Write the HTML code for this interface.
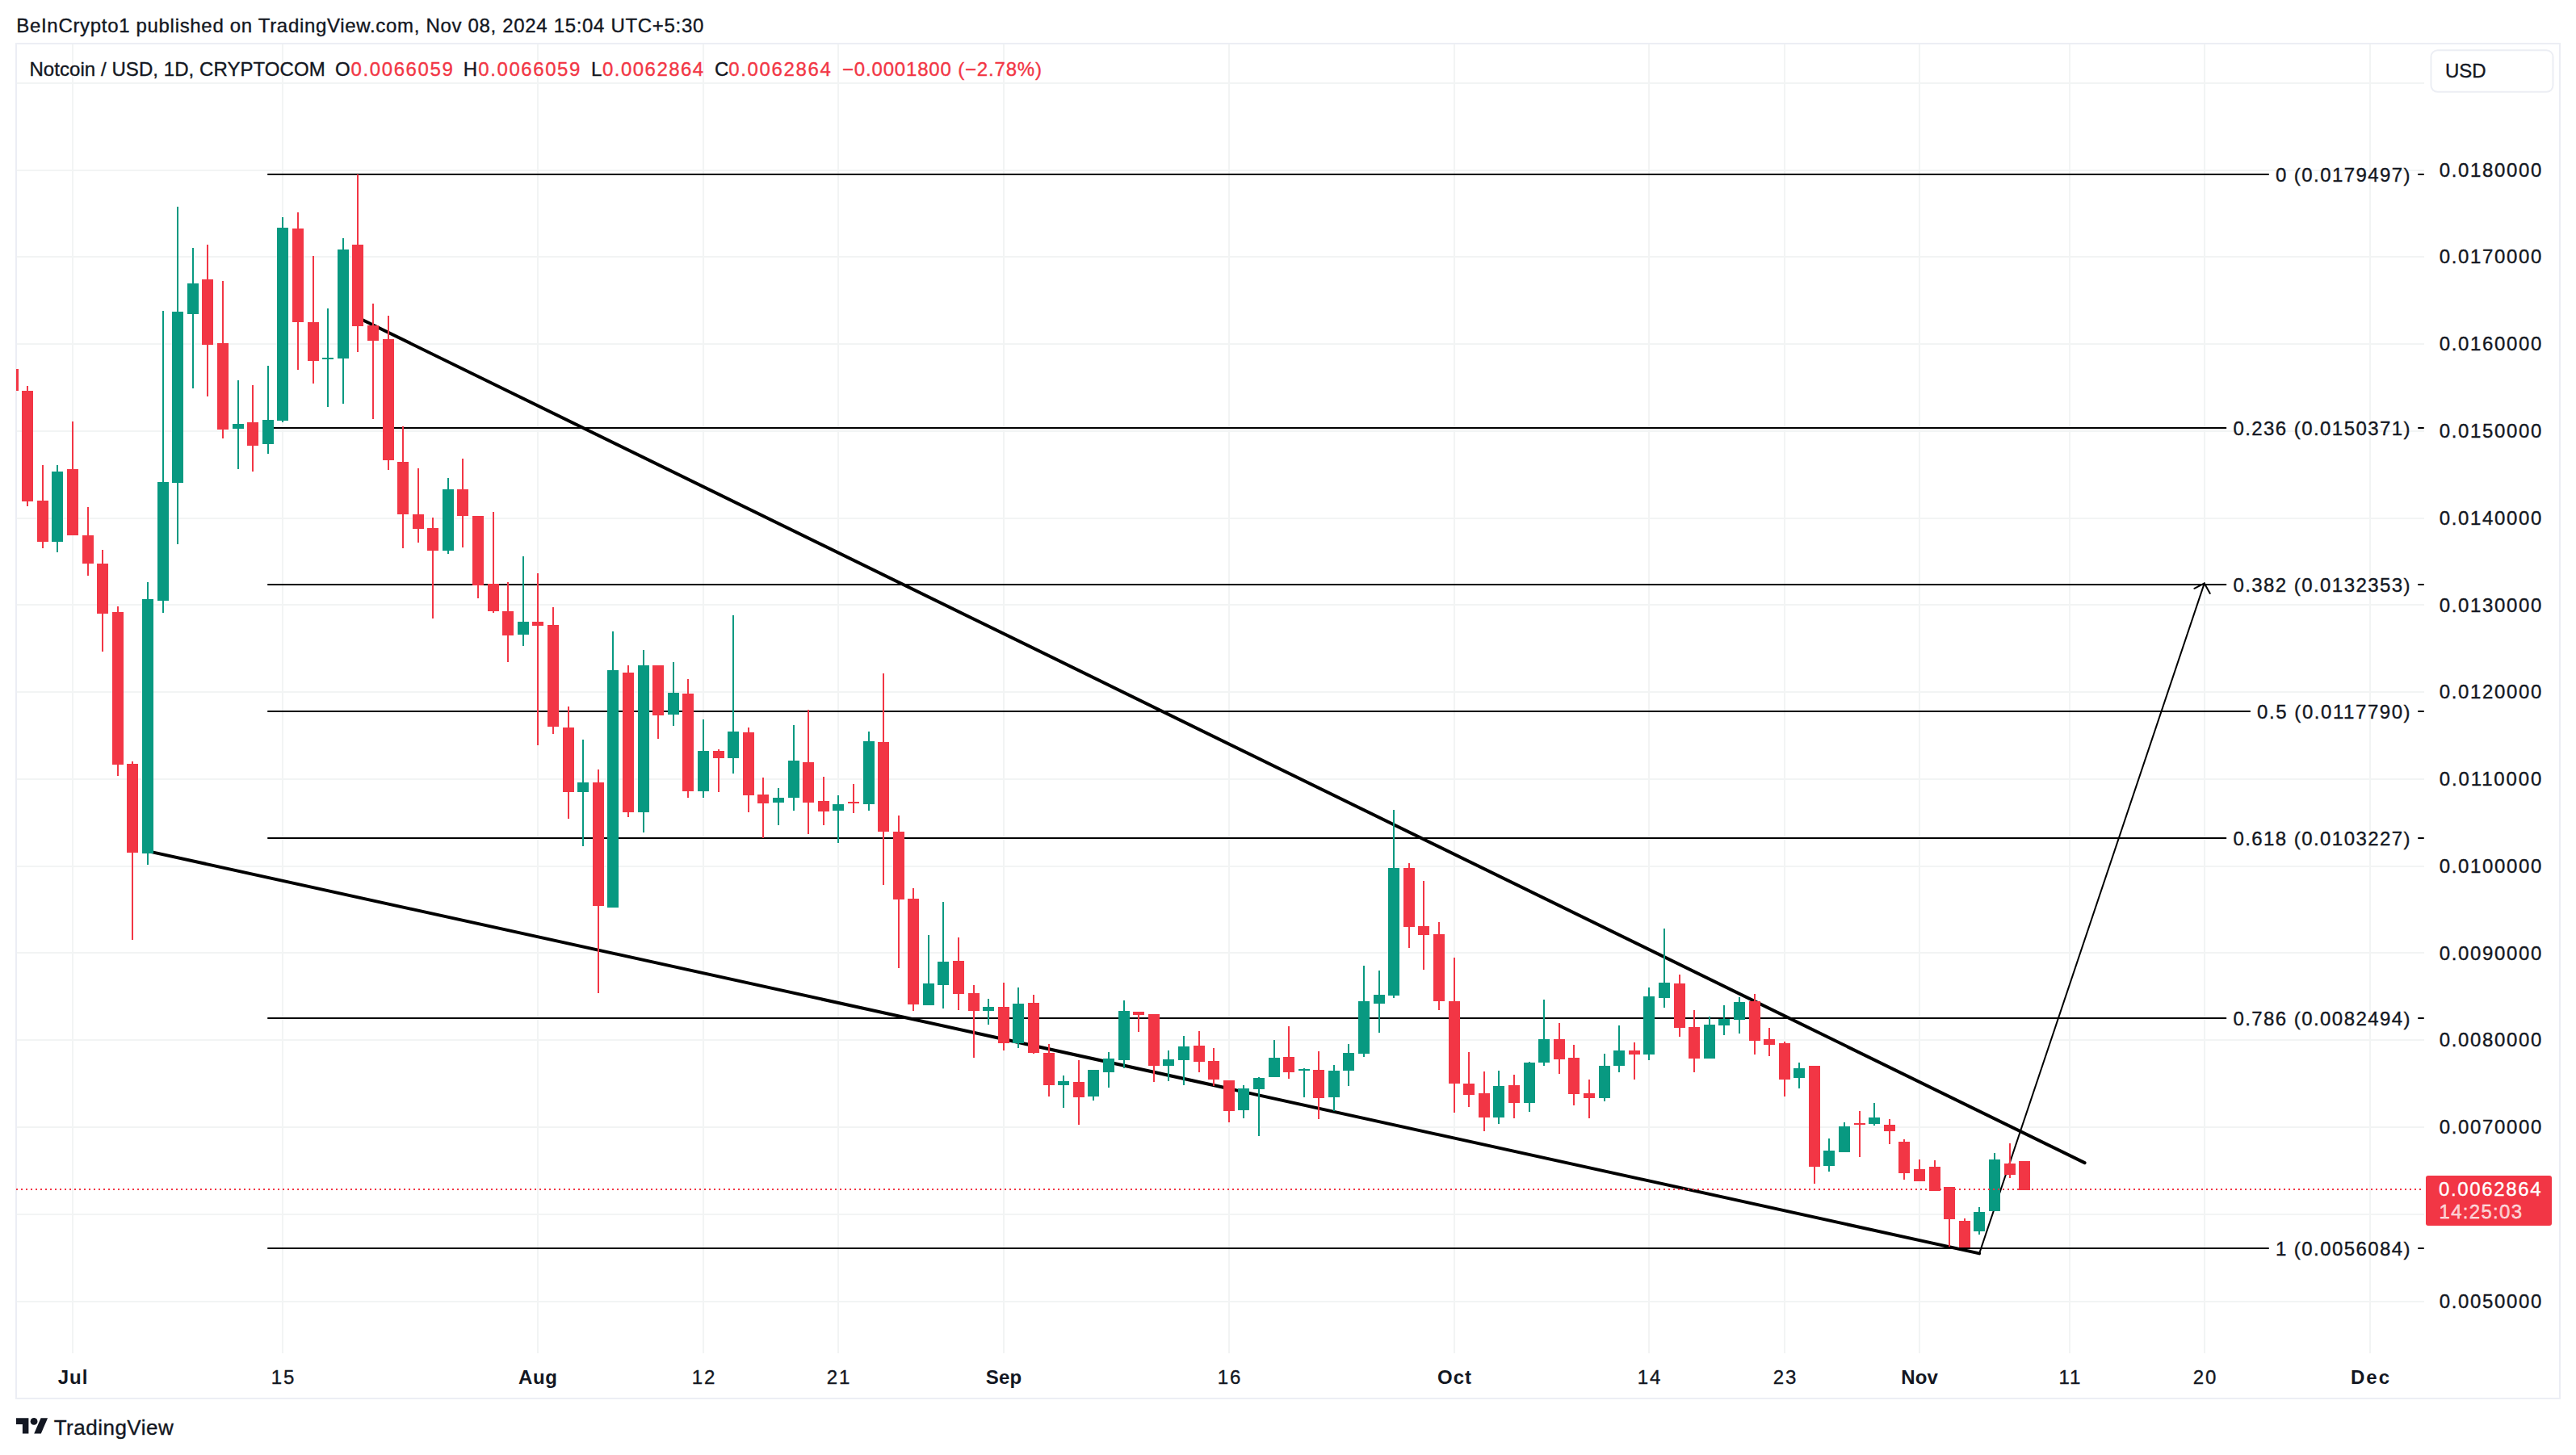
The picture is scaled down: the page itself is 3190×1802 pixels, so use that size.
<!DOCTYPE html>
<html><head><meta charset="utf-8"><title>NOTUSD chart</title>
<style>html,body{margin:0;padding:0;background:#fff}svg{display:block}</style></head>
<body>
<svg width="3190" height="1802" viewBox="0 0 3190 1802" font-family="'Liberation Sans', Arial, sans-serif">
<rect width="3190" height="1802" fill="#fff"/>
<g shape-rendering="crispEdges" fill="#f2f4f4">
<rect x="21" y="1611" width="2981" height="2"/>
<rect x="21" y="1503" width="2981" height="2"/>
<rect x="21" y="1395" width="2981" height="2"/>
<rect x="21" y="1287" width="2981" height="2"/>
<rect x="21" y="1179" width="2981" height="2"/>
<rect x="21" y="1072" width="2981" height="2"/>
<rect x="21" y="964" width="2981" height="2"/>
<rect x="21" y="856" width="2981" height="2"/>
<rect x="21" y="748" width="2981" height="2"/>
<rect x="21" y="641" width="2981" height="2"/>
<rect x="21" y="533" width="2981" height="2"/>
<rect x="21" y="425" width="2981" height="2"/>
<rect x="21" y="317" width="2981" height="2"/>
<rect x="21" y="210" width="2981" height="2"/>
<rect x="21" y="102" width="2981" height="2"/>
<rect x="89" y="55" width="2" height="1621"/>
<rect x="349" y="55" width="2" height="1621"/>
<rect x="665" y="55" width="2" height="1621"/>
<rect x="870" y="55" width="2" height="1621"/>
<rect x="1037" y="55" width="2" height="1621"/>
<rect x="1242" y="55" width="2" height="1621"/>
<rect x="1521" y="55" width="2" height="1621"/>
<rect x="1800" y="55" width="2" height="1621"/>
<rect x="2041" y="55" width="2" height="1621"/>
<rect x="2209" y="55" width="2" height="1621"/>
<rect x="2376" y="55" width="2" height="1621"/>
<rect x="2562" y="55" width="2" height="1621"/>
<rect x="2729" y="55" width="2" height="1621"/>
<rect x="2934" y="55" width="2" height="1621"/>
</g>
<rect x="20" y="54" width="3150" height="1678" fill="none" stroke="#eceef4" stroke-width="2" shape-rendering="crispEdges"/>
<g stroke="#000" stroke-width="2" stroke-linecap="round" fill="none">
<line x1="332" y1="216" x2="2809.0" y2="216"/>
<line x1="2995" y1="216" x2="3001" y2="216"/>
<line x1="332" y1="530" x2="2756.4" y2="530"/>
<line x1="2995" y1="530" x2="3001" y2="530"/>
<line x1="332" y1="724" x2="2756.4" y2="724"/>
<line x1="2995" y1="724" x2="3001" y2="724"/>
<line x1="332" y1="881" x2="2786.1" y2="881"/>
<line x1="2995" y1="881" x2="3001" y2="881"/>
<line x1="332" y1="1038" x2="2756.4" y2="1038"/>
<line x1="2995" y1="1038" x2="3001" y2="1038"/>
<line x1="332" y1="1261" x2="2756.4" y2="1261"/>
<line x1="2995" y1="1261" x2="3001" y2="1261"/>
<line x1="332" y1="1546" x2="2809.0" y2="1546"/>
<line x1="2995" y1="1546" x2="3001" y2="1546"/>
<line x1="2451.1" y1="1552.4" x2="2729.8" y2="722.4" stroke-width="2"/>
<polyline points="2717.4,728.8 2729.8,722.4 2736.8,735" stroke-width="2" stroke-linejoin="round"/>
</g>
<g stroke="#000" stroke-width="4" stroke-linecap="round" fill="none">
<line x1="443" y1="393.3" x2="2581.6" y2="1440.1"/>
<line x1="183" y1="1054.1" x2="2451.1" y2="1552.4"/>
</g>
<text x="2818.0" y="225.0" font-size="24" fill="#131722" stroke="#131722" stroke-width="0.35" textLength="166.6" lengthAdjust="spacing">0 (0.0179497)</text>
<text x="2765.4" y="539.0" font-size="24" fill="#131722" stroke="#131722" stroke-width="0.35" textLength="219.2" lengthAdjust="spacing">0.236 (0.0150371)</text>
<text x="2765.4" y="733.0" font-size="24" fill="#131722" stroke="#131722" stroke-width="0.35" textLength="219.2" lengthAdjust="spacing">0.382 (0.0132353)</text>
<text x="2795.1" y="890.0" font-size="24" fill="#131722" stroke="#131722" stroke-width="0.35" textLength="189.5" lengthAdjust="spacing">0.5 (0.0117790)</text>
<text x="2765.4" y="1047.0" font-size="24" fill="#131722" stroke="#131722" stroke-width="0.35" textLength="219.2" lengthAdjust="spacing">0.618 (0.0103227)</text>
<text x="2765.4" y="1270.0" font-size="24" fill="#131722" stroke="#131722" stroke-width="0.35" textLength="219.2" lengthAdjust="spacing">0.786 (0.0082494)</text>
<text x="2818.0" y="1555.0" font-size="24" fill="#131722" stroke="#131722" stroke-width="0.35" textLength="166.6" lengthAdjust="spacing">1 (0.0056084)</text>
<g shape-rendering="crispEdges">
<clipPath id="pc"><rect x="20" y="55" width="2982" height="1621"/></clipPath>
<g clip-path="url(#pc)">
<rect x="15" y="457" width="2" height="27" fill="#f23645"/>
<rect x="9" y="457" width="14" height="27" fill="#f23645"/>
<rect x="33" y="478" width="2" height="149" fill="#f23645"/>
<rect x="27" y="484" width="14" height="137" fill="#f23645"/>
<rect x="52" y="576" width="2" height="103" fill="#f23645"/>
<rect x="46" y="620" width="14" height="51" fill="#f23645"/>
<rect x="70" y="576" width="2" height="108" fill="#089981"/>
<rect x="64" y="584" width="14" height="87" fill="#089981"/>
<rect x="89" y="522" width="2" height="141" fill="#f23645"/>
<rect x="83" y="581" width="14" height="82" fill="#f23645"/>
<rect x="108" y="628" width="2" height="85" fill="#f23645"/>
<rect x="102" y="663" width="14" height="35" fill="#f23645"/>
<rect x="126" y="681" width="2" height="126" fill="#f23645"/>
<rect x="120" y="698" width="14" height="62" fill="#f23645"/>
<rect x="145" y="751" width="2" height="210" fill="#f23645"/>
<rect x="139" y="758" width="14" height="189" fill="#f23645"/>
<rect x="163" y="943" width="2" height="221" fill="#f23645"/>
<rect x="157" y="946" width="14" height="110" fill="#f23645"/>
<rect x="182" y="721" width="2" height="350" fill="#089981"/>
<rect x="176" y="742" width="14" height="315" fill="#089981"/>
<rect x="201" y="385" width="2" height="374" fill="#089981"/>
<rect x="195" y="597" width="14" height="147" fill="#089981"/>
<rect x="219" y="256" width="2" height="418" fill="#089981"/>
<rect x="213" y="386" width="14" height="212" fill="#089981"/>
<rect x="238" y="307" width="2" height="174" fill="#089981"/>
<rect x="232" y="351" width="14" height="38" fill="#089981"/>
<rect x="256" y="303" width="2" height="188" fill="#f23645"/>
<rect x="250" y="346" width="14" height="81" fill="#f23645"/>
<rect x="275" y="348" width="2" height="195" fill="#f23645"/>
<rect x="269" y="425" width="14" height="107" fill="#f23645"/>
<rect x="294" y="471" width="2" height="110" fill="#089981"/>
<rect x="288" y="525" width="14" height="6" fill="#089981"/>
<rect x="312" y="477" width="2" height="107" fill="#f23645"/>
<rect x="306" y="523" width="14" height="29" fill="#f23645"/>
<rect x="331" y="453" width="2" height="109" fill="#089981"/>
<rect x="325" y="520" width="14" height="30" fill="#089981"/>
<rect x="349" y="269" width="2" height="254" fill="#089981"/>
<rect x="343" y="282" width="14" height="239" fill="#089981"/>
<rect x="368" y="263" width="2" height="195" fill="#f23645"/>
<rect x="362" y="283" width="14" height="116" fill="#f23645"/>
<rect x="387" y="317" width="2" height="158" fill="#f23645"/>
<rect x="381" y="399" width="14" height="48" fill="#f23645"/>
<rect x="405" y="382" width="2" height="122" fill="#089981"/>
<rect x="399" y="443" width="14" height="2" fill="#089981"/>
<rect x="424" y="295" width="2" height="205" fill="#089981"/>
<rect x="418" y="309" width="14" height="135" fill="#089981"/>
<rect x="442" y="216" width="2" height="220" fill="#f23645"/>
<rect x="436" y="303" width="14" height="101" fill="#f23645"/>
<rect x="461" y="376" width="2" height="143" fill="#f23645"/>
<rect x="455" y="403" width="14" height="19" fill="#f23645"/>
<rect x="480" y="391" width="2" height="191" fill="#f23645"/>
<rect x="474" y="420" width="14" height="150" fill="#f23645"/>
<rect x="498" y="528" width="2" height="151" fill="#f23645"/>
<rect x="492" y="572" width="14" height="65" fill="#f23645"/>
<rect x="517" y="580" width="2" height="92" fill="#f23645"/>
<rect x="511" y="637" width="14" height="18" fill="#f23645"/>
<rect x="535" y="641" width="2" height="125" fill="#f23645"/>
<rect x="529" y="654" width="14" height="28" fill="#f23645"/>
<rect x="554" y="592" width="2" height="94" fill="#089981"/>
<rect x="548" y="606" width="14" height="76" fill="#089981"/>
<rect x="572" y="568" width="2" height="110" fill="#f23645"/>
<rect x="566" y="606" width="14" height="33" fill="#f23645"/>
<rect x="591" y="639" width="2" height="102" fill="#f23645"/>
<rect x="585" y="639" width="14" height="86" fill="#f23645"/>
<rect x="610" y="634" width="2" height="125" fill="#f23645"/>
<rect x="604" y="723" width="14" height="34" fill="#f23645"/>
<rect x="628" y="721" width="2" height="99" fill="#f23645"/>
<rect x="622" y="757" width="14" height="30" fill="#f23645"/>
<rect x="647" y="689" width="2" height="111" fill="#089981"/>
<rect x="641" y="770" width="14" height="16" fill="#089981"/>
<rect x="665" y="710" width="2" height="213" fill="#f23645"/>
<rect x="659" y="770" width="14" height="5" fill="#f23645"/>
<rect x="684" y="752" width="2" height="157" fill="#f23645"/>
<rect x="678" y="774" width="14" height="126" fill="#f23645"/>
<rect x="703" y="875" width="2" height="139" fill="#f23645"/>
<rect x="697" y="901" width="14" height="80" fill="#f23645"/>
<rect x="721" y="916" width="2" height="132" fill="#089981"/>
<rect x="715" y="969" width="14" height="12" fill="#089981"/>
<rect x="740" y="953" width="2" height="277" fill="#f23645"/>
<rect x="734" y="969" width="14" height="153" fill="#f23645"/>
<rect x="758" y="782" width="2" height="342" fill="#089981"/>
<rect x="752" y="830" width="14" height="294" fill="#089981"/>
<rect x="777" y="824" width="2" height="188" fill="#f23645"/>
<rect x="771" y="833" width="14" height="173" fill="#f23645"/>
<rect x="796" y="805" width="2" height="226" fill="#089981"/>
<rect x="790" y="824" width="14" height="182" fill="#089981"/>
<rect x="814" y="824" width="2" height="91" fill="#f23645"/>
<rect x="808" y="824" width="14" height="62" fill="#f23645"/>
<rect x="833" y="820" width="2" height="79" fill="#089981"/>
<rect x="827" y="858" width="14" height="27" fill="#089981"/>
<rect x="851" y="841" width="2" height="147" fill="#f23645"/>
<rect x="845" y="859" width="14" height="121" fill="#f23645"/>
<rect x="870" y="891" width="2" height="97" fill="#089981"/>
<rect x="864" y="930" width="14" height="50" fill="#089981"/>
<rect x="889" y="928" width="2" height="53" fill="#f23645"/>
<rect x="883" y="930" width="14" height="9" fill="#f23645"/>
<rect x="907" y="762" width="2" height="196" fill="#089981"/>
<rect x="901" y="906" width="14" height="33" fill="#089981"/>
<rect x="926" y="901" width="2" height="105" fill="#f23645"/>
<rect x="920" y="907" width="14" height="78" fill="#f23645"/>
<rect x="944" y="963" width="2" height="75" fill="#f23645"/>
<rect x="938" y="984" width="14" height="11" fill="#f23645"/>
<rect x="963" y="976" width="2" height="46" fill="#089981"/>
<rect x="957" y="988" width="14" height="6" fill="#089981"/>
<rect x="982" y="898" width="2" height="106" fill="#089981"/>
<rect x="976" y="942" width="14" height="46" fill="#089981"/>
<rect x="1000" y="879" width="2" height="154" fill="#f23645"/>
<rect x="994" y="944" width="14" height="50" fill="#f23645"/>
<rect x="1019" y="962" width="2" height="60" fill="#f23645"/>
<rect x="1013" y="992" width="14" height="13" fill="#f23645"/>
<rect x="1037" y="985" width="2" height="59" fill="#089981"/>
<rect x="1031" y="996" width="14" height="8" fill="#089981"/>
<rect x="1056" y="971" width="2" height="36" fill="#f23645"/>
<rect x="1050" y="993" width="14" height="2" fill="#f23645"/>
<rect x="1075" y="906" width="2" height="98" fill="#089981"/>
<rect x="1069" y="918" width="14" height="78" fill="#089981"/>
<rect x="1093" y="834" width="2" height="262" fill="#f23645"/>
<rect x="1087" y="919" width="14" height="111" fill="#f23645"/>
<rect x="1112" y="1010" width="2" height="189" fill="#f23645"/>
<rect x="1106" y="1030" width="14" height="84" fill="#f23645"/>
<rect x="1130" y="1100" width="2" height="152" fill="#f23645"/>
<rect x="1124" y="1113" width="14" height="131" fill="#f23645"/>
<rect x="1149" y="1158" width="2" height="87" fill="#089981"/>
<rect x="1143" y="1218" width="14" height="27" fill="#089981"/>
<rect x="1167" y="1117" width="2" height="132" fill="#089981"/>
<rect x="1161" y="1191" width="14" height="29" fill="#089981"/>
<rect x="1186" y="1161" width="2" height="90" fill="#f23645"/>
<rect x="1180" y="1190" width="14" height="41" fill="#f23645"/>
<rect x="1205" y="1220" width="2" height="90" fill="#f23645"/>
<rect x="1199" y="1230" width="14" height="22" fill="#f23645"/>
<rect x="1223" y="1237" width="2" height="32" fill="#089981"/>
<rect x="1217" y="1247" width="14" height="5" fill="#089981"/>
<rect x="1242" y="1217" width="2" height="84" fill="#f23645"/>
<rect x="1236" y="1247" width="14" height="45" fill="#f23645"/>
<rect x="1260" y="1223" width="2" height="75" fill="#089981"/>
<rect x="1254" y="1243" width="14" height="49" fill="#089981"/>
<rect x="1279" y="1232" width="2" height="73" fill="#f23645"/>
<rect x="1273" y="1242" width="14" height="62" fill="#f23645"/>
<rect x="1298" y="1293" width="2" height="65" fill="#f23645"/>
<rect x="1292" y="1304" width="14" height="40" fill="#f23645"/>
<rect x="1316" y="1332" width="2" height="40" fill="#089981"/>
<rect x="1310" y="1339" width="14" height="5" fill="#089981"/>
<rect x="1335" y="1313" width="2" height="80" fill="#f23645"/>
<rect x="1329" y="1340" width="14" height="19" fill="#f23645"/>
<rect x="1353" y="1325" width="2" height="38" fill="#089981"/>
<rect x="1347" y="1325" width="14" height="33" fill="#089981"/>
<rect x="1372" y="1303" width="2" height="44" fill="#089981"/>
<rect x="1366" y="1311" width="14" height="17" fill="#089981"/>
<rect x="1391" y="1239" width="2" height="84" fill="#089981"/>
<rect x="1385" y="1252" width="14" height="61" fill="#089981"/>
<rect x="1409" y="1253" width="2" height="25" fill="#f23645"/>
<rect x="1403" y="1253" width="14" height="4" fill="#f23645"/>
<rect x="1428" y="1256" width="2" height="84" fill="#f23645"/>
<rect x="1422" y="1256" width="14" height="64" fill="#f23645"/>
<rect x="1446" y="1301" width="2" height="38" fill="#089981"/>
<rect x="1440" y="1312" width="14" height="8" fill="#089981"/>
<rect x="1465" y="1283" width="2" height="61" fill="#089981"/>
<rect x="1459" y="1296" width="14" height="17" fill="#089981"/>
<rect x="1484" y="1277" width="2" height="51" fill="#f23645"/>
<rect x="1478" y="1295" width="14" height="20" fill="#f23645"/>
<rect x="1502" y="1298" width="2" height="47" fill="#f23645"/>
<rect x="1496" y="1314" width="14" height="23" fill="#f23645"/>
<rect x="1521" y="1338" width="2" height="52" fill="#f23645"/>
<rect x="1515" y="1338" width="14" height="38" fill="#f23645"/>
<rect x="1539" y="1344" width="2" height="41" fill="#089981"/>
<rect x="1533" y="1348" width="14" height="27" fill="#089981"/>
<rect x="1558" y="1334" width="2" height="73" fill="#089981"/>
<rect x="1552" y="1335" width="14" height="14" fill="#089981"/>
<rect x="1577" y="1288" width="2" height="46" fill="#089981"/>
<rect x="1571" y="1310" width="14" height="24" fill="#089981"/>
<rect x="1595" y="1271" width="2" height="65" fill="#f23645"/>
<rect x="1589" y="1309" width="14" height="19" fill="#f23645"/>
<rect x="1614" y="1323" width="2" height="36" fill="#089981"/>
<rect x="1608" y="1324" width="14" height="2" fill="#089981"/>
<rect x="1632" y="1302" width="2" height="84" fill="#f23645"/>
<rect x="1626" y="1325" width="14" height="35" fill="#f23645"/>
<rect x="1651" y="1319" width="2" height="57" fill="#089981"/>
<rect x="1645" y="1326" width="14" height="33" fill="#089981"/>
<rect x="1669" y="1293" width="2" height="52" fill="#089981"/>
<rect x="1663" y="1304" width="14" height="22" fill="#089981"/>
<rect x="1688" y="1196" width="2" height="113" fill="#089981"/>
<rect x="1682" y="1240" width="14" height="65" fill="#089981"/>
<rect x="1707" y="1202" width="2" height="77" fill="#089981"/>
<rect x="1701" y="1232" width="14" height="11" fill="#089981"/>
<rect x="1725" y="1003" width="2" height="233" fill="#089981"/>
<rect x="1719" y="1075" width="14" height="158" fill="#089981"/>
<rect x="1744" y="1069" width="2" height="105" fill="#f23645"/>
<rect x="1738" y="1075" width="14" height="73" fill="#f23645"/>
<rect x="1762" y="1091" width="2" height="110" fill="#f23645"/>
<rect x="1756" y="1147" width="14" height="11" fill="#f23645"/>
<rect x="1781" y="1142" width="2" height="109" fill="#f23645"/>
<rect x="1775" y="1157" width="14" height="83" fill="#f23645"/>
<rect x="1800" y="1186" width="2" height="192" fill="#f23645"/>
<rect x="1794" y="1240" width="14" height="102" fill="#f23645"/>
<rect x="1818" y="1303" width="2" height="68" fill="#f23645"/>
<rect x="1812" y="1342" width="14" height="14" fill="#f23645"/>
<rect x="1837" y="1327" width="2" height="74" fill="#f23645"/>
<rect x="1831" y="1354" width="14" height="30" fill="#f23645"/>
<rect x="1855" y="1326" width="2" height="66" fill="#089981"/>
<rect x="1849" y="1345" width="14" height="39" fill="#089981"/>
<rect x="1874" y="1331" width="2" height="54" fill="#f23645"/>
<rect x="1868" y="1344" width="14" height="22" fill="#f23645"/>
<rect x="1893" y="1315" width="2" height="62" fill="#089981"/>
<rect x="1887" y="1316" width="14" height="50" fill="#089981"/>
<rect x="1911" y="1238" width="2" height="82" fill="#089981"/>
<rect x="1905" y="1287" width="14" height="29" fill="#089981"/>
<rect x="1930" y="1267" width="2" height="63" fill="#f23645"/>
<rect x="1924" y="1287" width="14" height="25" fill="#f23645"/>
<rect x="1948" y="1294" width="2" height="75" fill="#f23645"/>
<rect x="1942" y="1310" width="14" height="45" fill="#f23645"/>
<rect x="1967" y="1337" width="2" height="48" fill="#f23645"/>
<rect x="1961" y="1354" width="14" height="6" fill="#f23645"/>
<rect x="1986" y="1305" width="2" height="59" fill="#089981"/>
<rect x="1980" y="1320" width="14" height="40" fill="#089981"/>
<rect x="2004" y="1270" width="2" height="58" fill="#089981"/>
<rect x="1998" y="1301" width="14" height="19" fill="#089981"/>
<rect x="2023" y="1291" width="2" height="46" fill="#f23645"/>
<rect x="2017" y="1301" width="14" height="5" fill="#f23645"/>
<rect x="2041" y="1223" width="2" height="90" fill="#089981"/>
<rect x="2035" y="1234" width="14" height="72" fill="#089981"/>
<rect x="2060" y="1150" width="2" height="98" fill="#089981"/>
<rect x="2054" y="1217" width="14" height="19" fill="#089981"/>
<rect x="2079" y="1207" width="2" height="77" fill="#f23645"/>
<rect x="2073" y="1218" width="14" height="55" fill="#f23645"/>
<rect x="2097" y="1251" width="2" height="77" fill="#f23645"/>
<rect x="2091" y="1272" width="14" height="39" fill="#f23645"/>
<rect x="2116" y="1259" width="2" height="52" fill="#089981"/>
<rect x="2110" y="1269" width="14" height="42" fill="#089981"/>
<rect x="2134" y="1245" width="2" height="37" fill="#089981"/>
<rect x="2128" y="1262" width="14" height="8" fill="#089981"/>
<rect x="2153" y="1235" width="2" height="45" fill="#089981"/>
<rect x="2147" y="1241" width="14" height="22" fill="#089981"/>
<rect x="2172" y="1231" width="2" height="75" fill="#f23645"/>
<rect x="2166" y="1240" width="14" height="49" fill="#f23645"/>
<rect x="2190" y="1273" width="2" height="35" fill="#f23645"/>
<rect x="2184" y="1287" width="14" height="7" fill="#f23645"/>
<rect x="2209" y="1290" width="2" height="68" fill="#f23645"/>
<rect x="2203" y="1292" width="14" height="45" fill="#f23645"/>
<rect x="2227" y="1316" width="2" height="32" fill="#089981"/>
<rect x="2221" y="1323" width="14" height="12" fill="#089981"/>
<rect x="2246" y="1320" width="2" height="146" fill="#f23645"/>
<rect x="2240" y="1320" width="14" height="125" fill="#f23645"/>
<rect x="2264" y="1410" width="2" height="41" fill="#089981"/>
<rect x="2258" y="1425" width="14" height="19" fill="#089981"/>
<rect x="2283" y="1390" width="2" height="37" fill="#089981"/>
<rect x="2277" y="1395" width="14" height="32" fill="#089981"/>
<rect x="2302" y="1376" width="2" height="57" fill="#f23645"/>
<rect x="2296" y="1391" width="14" height="2" fill="#f23645"/>
<rect x="2320" y="1366" width="2" height="28" fill="#089981"/>
<rect x="2314" y="1384" width="14" height="8" fill="#089981"/>
<rect x="2339" y="1386" width="2" height="31" fill="#f23645"/>
<rect x="2333" y="1393" width="14" height="8" fill="#f23645"/>
<rect x="2357" y="1411" width="2" height="50" fill="#f23645"/>
<rect x="2351" y="1414" width="14" height="39" fill="#f23645"/>
<rect x="2376" y="1436" width="2" height="27" fill="#f23645"/>
<rect x="2370" y="1448" width="14" height="15" fill="#f23645"/>
<rect x="2395" y="1437" width="2" height="38" fill="#f23645"/>
<rect x="2389" y="1445" width="14" height="30" fill="#f23645"/>
<rect x="2413" y="1470" width="2" height="74" fill="#f23645"/>
<rect x="2407" y="1470" width="14" height="40" fill="#f23645"/>
<rect x="2432" y="1509" width="2" height="36" fill="#f23645"/>
<rect x="2426" y="1512" width="14" height="33" fill="#f23645"/>
<rect x="2450" y="1495" width="2" height="34" fill="#089981"/>
<rect x="2444" y="1501" width="14" height="24" fill="#089981"/>
<rect x="2469" y="1428" width="2" height="72" fill="#089981"/>
<rect x="2463" y="1436" width="14" height="64" fill="#089981"/>
<rect x="2488" y="1416" width="2" height="43" fill="#f23645"/>
<rect x="2482" y="1441" width="14" height="14" fill="#f23645"/>
<rect x="2506" y="1438" width="2" height="36" fill="#f23645"/>
<rect x="2500" y="1438" width="14" height="36" fill="#f23645"/>
</g>
<path d="M20 1472h2v2h-2zM26 1472h2v2h-2zM32 1472h2v2h-2zM38 1472h2v2h-2zM44 1472h2v2h-2zM50 1472h2v2h-2zM56 1472h2v2h-2zM62 1472h2v2h-2zM68 1472h2v2h-2zM74 1472h2v2h-2zM80 1472h2v2h-2zM86 1472h2v2h-2zM92 1472h2v2h-2zM98 1472h2v2h-2zM104 1472h2v2h-2zM110 1472h2v2h-2zM116 1472h2v2h-2zM122 1472h2v2h-2zM128 1472h2v2h-2zM134 1472h2v2h-2zM140 1472h2v2h-2zM146 1472h2v2h-2zM152 1472h2v2h-2zM158 1472h2v2h-2zM164 1472h2v2h-2zM170 1472h2v2h-2zM176 1472h2v2h-2zM182 1472h2v2h-2zM188 1472h2v2h-2zM194 1472h2v2h-2zM200 1472h2v2h-2zM206 1472h2v2h-2zM212 1472h2v2h-2zM218 1472h2v2h-2zM224 1472h2v2h-2zM230 1472h2v2h-2zM236 1472h2v2h-2zM242 1472h2v2h-2zM248 1472h2v2h-2zM254 1472h2v2h-2zM260 1472h2v2h-2zM266 1472h2v2h-2zM272 1472h2v2h-2zM278 1472h2v2h-2zM284 1472h2v2h-2zM290 1472h2v2h-2zM296 1472h2v2h-2zM302 1472h2v2h-2zM308 1472h2v2h-2zM314 1472h2v2h-2zM320 1472h2v2h-2zM326 1472h2v2h-2zM332 1472h2v2h-2zM338 1472h2v2h-2zM344 1472h2v2h-2zM350 1472h2v2h-2zM356 1472h2v2h-2zM362 1472h2v2h-2zM368 1472h2v2h-2zM374 1472h2v2h-2zM380 1472h2v2h-2zM386 1472h2v2h-2zM392 1472h2v2h-2zM398 1472h2v2h-2zM404 1472h2v2h-2zM410 1472h2v2h-2zM416 1472h2v2h-2zM422 1472h2v2h-2zM428 1472h2v2h-2zM434 1472h2v2h-2zM440 1472h2v2h-2zM446 1472h2v2h-2zM452 1472h2v2h-2zM458 1472h2v2h-2zM464 1472h2v2h-2zM470 1472h2v2h-2zM476 1472h2v2h-2zM482 1472h2v2h-2zM488 1472h2v2h-2zM494 1472h2v2h-2zM500 1472h2v2h-2zM506 1472h2v2h-2zM512 1472h2v2h-2zM518 1472h2v2h-2zM524 1472h2v2h-2zM530 1472h2v2h-2zM536 1472h2v2h-2zM542 1472h2v2h-2zM548 1472h2v2h-2zM554 1472h2v2h-2zM560 1472h2v2h-2zM566 1472h2v2h-2zM572 1472h2v2h-2zM578 1472h2v2h-2zM584 1472h2v2h-2zM590 1472h2v2h-2zM596 1472h2v2h-2zM602 1472h2v2h-2zM608 1472h2v2h-2zM614 1472h2v2h-2zM620 1472h2v2h-2zM626 1472h2v2h-2zM632 1472h2v2h-2zM638 1472h2v2h-2zM644 1472h2v2h-2zM650 1472h2v2h-2zM656 1472h2v2h-2zM662 1472h2v2h-2zM668 1472h2v2h-2zM674 1472h2v2h-2zM680 1472h2v2h-2zM686 1472h2v2h-2zM692 1472h2v2h-2zM698 1472h2v2h-2zM704 1472h2v2h-2zM710 1472h2v2h-2zM716 1472h2v2h-2zM722 1472h2v2h-2zM728 1472h2v2h-2zM734 1472h2v2h-2zM740 1472h2v2h-2zM746 1472h2v2h-2zM752 1472h2v2h-2zM758 1472h2v2h-2zM764 1472h2v2h-2zM770 1472h2v2h-2zM776 1472h2v2h-2zM782 1472h2v2h-2zM788 1472h2v2h-2zM794 1472h2v2h-2zM800 1472h2v2h-2zM806 1472h2v2h-2zM812 1472h2v2h-2zM818 1472h2v2h-2zM824 1472h2v2h-2zM830 1472h2v2h-2zM836 1472h2v2h-2zM842 1472h2v2h-2zM848 1472h2v2h-2zM854 1472h2v2h-2zM860 1472h2v2h-2zM866 1472h2v2h-2zM872 1472h2v2h-2zM878 1472h2v2h-2zM884 1472h2v2h-2zM890 1472h2v2h-2zM896 1472h2v2h-2zM902 1472h2v2h-2zM908 1472h2v2h-2zM914 1472h2v2h-2zM920 1472h2v2h-2zM926 1472h2v2h-2zM932 1472h2v2h-2zM938 1472h2v2h-2zM944 1472h2v2h-2zM950 1472h2v2h-2zM956 1472h2v2h-2zM962 1472h2v2h-2zM968 1472h2v2h-2zM974 1472h2v2h-2zM980 1472h2v2h-2zM986 1472h2v2h-2zM992 1472h2v2h-2zM998 1472h2v2h-2zM1004 1472h2v2h-2zM1010 1472h2v2h-2zM1016 1472h2v2h-2zM1022 1472h2v2h-2zM1028 1472h2v2h-2zM1034 1472h2v2h-2zM1040 1472h2v2h-2zM1046 1472h2v2h-2zM1052 1472h2v2h-2zM1058 1472h2v2h-2zM1064 1472h2v2h-2zM1070 1472h2v2h-2zM1076 1472h2v2h-2zM1082 1472h2v2h-2zM1088 1472h2v2h-2zM1094 1472h2v2h-2zM1100 1472h2v2h-2zM1106 1472h2v2h-2zM1112 1472h2v2h-2zM1118 1472h2v2h-2zM1124 1472h2v2h-2zM1130 1472h2v2h-2zM1136 1472h2v2h-2zM1142 1472h2v2h-2zM1148 1472h2v2h-2zM1154 1472h2v2h-2zM1160 1472h2v2h-2zM1166 1472h2v2h-2zM1172 1472h2v2h-2zM1178 1472h2v2h-2zM1184 1472h2v2h-2zM1190 1472h2v2h-2zM1196 1472h2v2h-2zM1202 1472h2v2h-2zM1208 1472h2v2h-2zM1214 1472h2v2h-2zM1220 1472h2v2h-2zM1226 1472h2v2h-2zM1232 1472h2v2h-2zM1238 1472h2v2h-2zM1244 1472h2v2h-2zM1250 1472h2v2h-2zM1256 1472h2v2h-2zM1262 1472h2v2h-2zM1268 1472h2v2h-2zM1274 1472h2v2h-2zM1280 1472h2v2h-2zM1286 1472h2v2h-2zM1292 1472h2v2h-2zM1298 1472h2v2h-2zM1304 1472h2v2h-2zM1310 1472h2v2h-2zM1316 1472h2v2h-2zM1322 1472h2v2h-2zM1328 1472h2v2h-2zM1334 1472h2v2h-2zM1340 1472h2v2h-2zM1346 1472h2v2h-2zM1352 1472h2v2h-2zM1358 1472h2v2h-2zM1364 1472h2v2h-2zM1370 1472h2v2h-2zM1376 1472h2v2h-2zM1382 1472h2v2h-2zM1388 1472h2v2h-2zM1394 1472h2v2h-2zM1400 1472h2v2h-2zM1406 1472h2v2h-2zM1412 1472h2v2h-2zM1418 1472h2v2h-2zM1424 1472h2v2h-2zM1430 1472h2v2h-2zM1436 1472h2v2h-2zM1442 1472h2v2h-2zM1448 1472h2v2h-2zM1454 1472h2v2h-2zM1460 1472h2v2h-2zM1466 1472h2v2h-2zM1472 1472h2v2h-2zM1478 1472h2v2h-2zM1484 1472h2v2h-2zM1490 1472h2v2h-2zM1496 1472h2v2h-2zM1502 1472h2v2h-2zM1508 1472h2v2h-2zM1514 1472h2v2h-2zM1520 1472h2v2h-2zM1526 1472h2v2h-2zM1532 1472h2v2h-2zM1538 1472h2v2h-2zM1544 1472h2v2h-2zM1550 1472h2v2h-2zM1556 1472h2v2h-2zM1562 1472h2v2h-2zM1568 1472h2v2h-2zM1574 1472h2v2h-2zM1580 1472h2v2h-2zM1586 1472h2v2h-2zM1592 1472h2v2h-2zM1598 1472h2v2h-2zM1604 1472h2v2h-2zM1610 1472h2v2h-2zM1616 1472h2v2h-2zM1622 1472h2v2h-2zM1628 1472h2v2h-2zM1634 1472h2v2h-2zM1640 1472h2v2h-2zM1646 1472h2v2h-2zM1652 1472h2v2h-2zM1658 1472h2v2h-2zM1664 1472h2v2h-2zM1670 1472h2v2h-2zM1676 1472h2v2h-2zM1682 1472h2v2h-2zM1688 1472h2v2h-2zM1694 1472h2v2h-2zM1700 1472h2v2h-2zM1706 1472h2v2h-2zM1712 1472h2v2h-2zM1718 1472h2v2h-2zM1724 1472h2v2h-2zM1730 1472h2v2h-2zM1736 1472h2v2h-2zM1742 1472h2v2h-2zM1748 1472h2v2h-2zM1754 1472h2v2h-2zM1760 1472h2v2h-2zM1766 1472h2v2h-2zM1772 1472h2v2h-2zM1778 1472h2v2h-2zM1784 1472h2v2h-2zM1790 1472h2v2h-2zM1796 1472h2v2h-2zM1802 1472h2v2h-2zM1808 1472h2v2h-2zM1814 1472h2v2h-2zM1820 1472h2v2h-2zM1826 1472h2v2h-2zM1832 1472h2v2h-2zM1838 1472h2v2h-2zM1844 1472h2v2h-2zM1850 1472h2v2h-2zM1856 1472h2v2h-2zM1862 1472h2v2h-2zM1868 1472h2v2h-2zM1874 1472h2v2h-2zM1880 1472h2v2h-2zM1886 1472h2v2h-2zM1892 1472h2v2h-2zM1898 1472h2v2h-2zM1904 1472h2v2h-2zM1910 1472h2v2h-2zM1916 1472h2v2h-2zM1922 1472h2v2h-2zM1928 1472h2v2h-2zM1934 1472h2v2h-2zM1940 1472h2v2h-2zM1946 1472h2v2h-2zM1952 1472h2v2h-2zM1958 1472h2v2h-2zM1964 1472h2v2h-2zM1970 1472h2v2h-2zM1976 1472h2v2h-2zM1982 1472h2v2h-2zM1988 1472h2v2h-2zM1994 1472h2v2h-2zM2000 1472h2v2h-2zM2006 1472h2v2h-2zM2012 1472h2v2h-2zM2018 1472h2v2h-2zM2024 1472h2v2h-2zM2030 1472h2v2h-2zM2036 1472h2v2h-2zM2042 1472h2v2h-2zM2048 1472h2v2h-2zM2054 1472h2v2h-2zM2060 1472h2v2h-2zM2066 1472h2v2h-2zM2072 1472h2v2h-2zM2078 1472h2v2h-2zM2084 1472h2v2h-2zM2090 1472h2v2h-2zM2096 1472h2v2h-2zM2102 1472h2v2h-2zM2108 1472h2v2h-2zM2114 1472h2v2h-2zM2120 1472h2v2h-2zM2126 1472h2v2h-2zM2132 1472h2v2h-2zM2138 1472h2v2h-2zM2144 1472h2v2h-2zM2150 1472h2v2h-2zM2156 1472h2v2h-2zM2162 1472h2v2h-2zM2168 1472h2v2h-2zM2174 1472h2v2h-2zM2180 1472h2v2h-2zM2186 1472h2v2h-2zM2192 1472h2v2h-2zM2198 1472h2v2h-2zM2204 1472h2v2h-2zM2210 1472h2v2h-2zM2216 1472h2v2h-2zM2222 1472h2v2h-2zM2228 1472h2v2h-2zM2234 1472h2v2h-2zM2240 1472h2v2h-2zM2246 1472h2v2h-2zM2252 1472h2v2h-2zM2258 1472h2v2h-2zM2264 1472h2v2h-2zM2270 1472h2v2h-2zM2276 1472h2v2h-2zM2282 1472h2v2h-2zM2288 1472h2v2h-2zM2294 1472h2v2h-2zM2300 1472h2v2h-2zM2306 1472h2v2h-2zM2312 1472h2v2h-2zM2318 1472h2v2h-2zM2324 1472h2v2h-2zM2330 1472h2v2h-2zM2336 1472h2v2h-2zM2342 1472h2v2h-2zM2348 1472h2v2h-2zM2354 1472h2v2h-2zM2360 1472h2v2h-2zM2366 1472h2v2h-2zM2372 1472h2v2h-2zM2378 1472h2v2h-2zM2384 1472h2v2h-2zM2390 1472h2v2h-2zM2396 1472h2v2h-2zM2402 1472h2v2h-2zM2408 1472h2v2h-2zM2414 1472h2v2h-2zM2420 1472h2v2h-2zM2426 1472h2v2h-2zM2432 1472h2v2h-2zM2438 1472h2v2h-2zM2444 1472h2v2h-2zM2450 1472h2v2h-2zM2456 1472h2v2h-2zM2462 1472h2v2h-2zM2468 1472h2v2h-2zM2474 1472h2v2h-2zM2480 1472h2v2h-2zM2486 1472h2v2h-2zM2492 1472h2v2h-2zM2498 1472h2v2h-2zM2504 1472h2v2h-2zM2510 1472h2v2h-2zM2516 1472h2v2h-2zM2522 1472h2v2h-2zM2528 1472h2v2h-2zM2534 1472h2v2h-2zM2540 1472h2v2h-2zM2546 1472h2v2h-2zM2552 1472h2v2h-2zM2558 1472h2v2h-2zM2564 1472h2v2h-2zM2570 1472h2v2h-2zM2576 1472h2v2h-2zM2582 1472h2v2h-2zM2588 1472h2v2h-2zM2594 1472h2v2h-2zM2600 1472h2v2h-2zM2606 1472h2v2h-2zM2612 1472h2v2h-2zM2618 1472h2v2h-2zM2624 1472h2v2h-2zM2630 1472h2v2h-2zM2636 1472h2v2h-2zM2642 1472h2v2h-2zM2648 1472h2v2h-2zM2654 1472h2v2h-2zM2660 1472h2v2h-2zM2666 1472h2v2h-2zM2672 1472h2v2h-2zM2678 1472h2v2h-2zM2684 1472h2v2h-2zM2690 1472h2v2h-2zM2696 1472h2v2h-2zM2702 1472h2v2h-2zM2708 1472h2v2h-2zM2714 1472h2v2h-2zM2720 1472h2v2h-2zM2726 1472h2v2h-2zM2732 1472h2v2h-2zM2738 1472h2v2h-2zM2744 1472h2v2h-2zM2750 1472h2v2h-2zM2756 1472h2v2h-2zM2762 1472h2v2h-2zM2768 1472h2v2h-2zM2774 1472h2v2h-2zM2780 1472h2v2h-2zM2786 1472h2v2h-2zM2792 1472h2v2h-2zM2798 1472h2v2h-2zM2804 1472h2v2h-2zM2810 1472h2v2h-2zM2816 1472h2v2h-2zM2822 1472h2v2h-2zM2828 1472h2v2h-2zM2834 1472h2v2h-2zM2840 1472h2v2h-2zM2846 1472h2v2h-2zM2852 1472h2v2h-2zM2858 1472h2v2h-2zM2864 1472h2v2h-2zM2870 1472h2v2h-2zM2876 1472h2v2h-2zM2882 1472h2v2h-2zM2888 1472h2v2h-2zM2894 1472h2v2h-2zM2900 1472h2v2h-2zM2906 1472h2v2h-2zM2912 1472h2v2h-2zM2918 1472h2v2h-2zM2924 1472h2v2h-2zM2930 1472h2v2h-2zM2936 1472h2v2h-2zM2942 1472h2v2h-2zM2948 1472h2v2h-2zM2954 1472h2v2h-2zM2960 1472h2v2h-2zM2966 1472h2v2h-2zM2972 1472h2v2h-2zM2978 1472h2v2h-2zM2984 1472h2v2h-2zM2990 1472h2v2h-2zM2996 1472h2v2h-2z" fill="#f23645"/>
</g>
<text x="20.3" y="40.0" font-size="24" fill="#131722" stroke="#131722" stroke-width="0.35" textLength="851.0" lengthAdjust="spacing">BeInCrypto1 published on TradingView.com, Nov 08, 2024 15:04 UTC+5:30</text>
<text x="36.4" y="94.0" font-size="24" fill="#131722" stroke="#131722" stroke-width="0.35" textLength="366.3" lengthAdjust="spacing">Notcoin / USD, 1D, CRYPTOCOM</text>
<text x="415.1" y="94.0" font-size="24" fill="#131722" stroke="#131722" stroke-width="0.35">O</text>
<text x="434.6" y="94.0" font-size="24" fill="#f23645" stroke="#f23645" stroke-width="0.35" textLength="126.2" lengthAdjust="spacing">0.0066059</text>
<text x="573.8" y="94.0" font-size="24" fill="#131722" stroke="#131722" stroke-width="0.35">H</text>
<text x="592.3" y="94.0" font-size="24" fill="#f23645" stroke="#f23645" stroke-width="0.35" textLength="126.1" lengthAdjust="spacing">0.0066059</text>
<text x="731.9" y="94.0" font-size="24" fill="#131722" stroke="#131722" stroke-width="0.35">L</text>
<text x="746.0" y="94.0" font-size="24" fill="#f23645" stroke="#f23645" stroke-width="0.35" textLength="125.2" lengthAdjust="spacing">0.0062864</text>
<text x="884.9" y="94.0" font-size="24" fill="#131722" stroke="#131722" stroke-width="0.35">C</text>
<text x="902.3" y="94.0" font-size="24" fill="#f23645" stroke="#f23645" stroke-width="0.35" textLength="126.5" lengthAdjust="spacing">0.0062864</text>
<text x="1043.0" y="94.0" font-size="24" fill="#f23645" stroke="#f23645" stroke-width="0.35" textLength="247.0" lengthAdjust="spacing">−0.0001800 (−2.78%)</text>
<rect x="3010.5" y="62.3" width="151" height="51.5" rx="8" fill="#fff" stroke="#eceef4" stroke-width="2"/>
<text x="3028.0" y="96.0" font-size="24" fill="#131722" stroke="#131722" stroke-width="0.35">USD</text>
<text x="3020.8" y="1620.0" font-size="24" fill="#131722" stroke="#131722" stroke-width="0.35" textLength="126.5" lengthAdjust="spacing">0.0050000</text>
<text x="3020.8" y="1404.0" font-size="24" fill="#131722" stroke="#131722" stroke-width="0.35" textLength="126.5" lengthAdjust="spacing">0.0070000</text>
<text x="3020.8" y="1296.0" font-size="24" fill="#131722" stroke="#131722" stroke-width="0.35" textLength="126.5" lengthAdjust="spacing">0.0080000</text>
<text x="3020.8" y="1189.0" font-size="24" fill="#131722" stroke="#131722" stroke-width="0.35" textLength="126.5" lengthAdjust="spacing">0.0090000</text>
<text x="3020.8" y="1081.0" font-size="24" fill="#131722" stroke="#131722" stroke-width="0.35" textLength="126.5" lengthAdjust="spacing">0.0100000</text>
<text x="3020.8" y="973.0" font-size="24" fill="#131722" stroke="#131722" stroke-width="0.35" textLength="126.5" lengthAdjust="spacing">0.0110000</text>
<text x="3020.8" y="865.0" font-size="24" fill="#131722" stroke="#131722" stroke-width="0.35" textLength="126.5" lengthAdjust="spacing">0.0120000</text>
<text x="3020.8" y="758.0" font-size="24" fill="#131722" stroke="#131722" stroke-width="0.35" textLength="126.5" lengthAdjust="spacing">0.0130000</text>
<text x="3020.8" y="650.0" font-size="24" fill="#131722" stroke="#131722" stroke-width="0.35" textLength="126.5" lengthAdjust="spacing">0.0140000</text>
<text x="3020.8" y="542.0" font-size="24" fill="#131722" stroke="#131722" stroke-width="0.35" textLength="126.5" lengthAdjust="spacing">0.0150000</text>
<text x="3020.8" y="434.0" font-size="24" fill="#131722" stroke="#131722" stroke-width="0.35" textLength="126.5" lengthAdjust="spacing">0.0160000</text>
<text x="3020.8" y="326.0" font-size="24" fill="#131722" stroke="#131722" stroke-width="0.35" textLength="126.5" lengthAdjust="spacing">0.0170000</text>
<text x="3020.8" y="219.0" font-size="24" fill="#131722" stroke="#131722" stroke-width="0.35" textLength="126.5" lengthAdjust="spacing">0.0180000</text>
<rect x="3004" y="1456" width="156" height="62" rx="3" fill="#f23645"/>
<text x="3020.0" y="1481.0" font-size="24" fill="#fff" stroke="#fff" stroke-width="0.35" textLength="126.5" lengthAdjust="spacing">0.0062864</text>
<text x="3020.5" y="1509.0" font-size="24" fill="#fff" stroke="#fff" stroke-width="0.35" textLength="102.5" lengthAdjust="spacing" fill-opacity="0.72">14:25:03</text>
<text x="71.7" y="1714.0" font-size="24" fill="#131722" font-weight="700" textLength="36.7" lengthAdjust="spacing">Jul</text>
<text x="335.7" y="1714.0" font-size="24" fill="#131722" stroke="#131722" stroke-width="0.35" textLength="28.7" lengthAdjust="spacing">15</text>
<text x="642.0" y="1714.0" font-size="24" fill="#131722" font-weight="700" textLength="48.0" lengthAdjust="spacing">Aug</text>
<text x="856.7" y="1714.0" font-size="24" fill="#131722" stroke="#131722" stroke-width="0.35" textLength="28.7" lengthAdjust="spacing">12</text>
<text x="1023.7" y="1714.0" font-size="24" fill="#131722" stroke="#131722" stroke-width="0.35" textLength="28.7" lengthAdjust="spacing">21</text>
<text x="1220.7" y="1714.0" font-size="24" fill="#131722" font-weight="700" textLength="44.5" lengthAdjust="spacing">Sep</text>
<text x="1507.7" y="1714.0" font-size="24" fill="#131722" stroke="#131722" stroke-width="0.35" textLength="28.7" lengthAdjust="spacing">16</text>
<text x="1780.0" y="1714.0" font-size="24" fill="#131722" font-weight="700" textLength="42.0" lengthAdjust="spacing">Oct</text>
<text x="2027.7" y="1714.0" font-size="24" fill="#131722" stroke="#131722" stroke-width="0.35" textLength="28.7" lengthAdjust="spacing">14</text>
<text x="2195.7" y="1714.0" font-size="24" fill="#131722" stroke="#131722" stroke-width="0.35" textLength="28.7" lengthAdjust="spacing">23</text>
<text x="2354.2" y="1714.0" font-size="24" fill="#131722" font-weight="700" textLength="45.6" lengthAdjust="spacing">Nov</text>
<text x="2549.5" y="1714.0" font-size="24" fill="#131722" stroke="#131722" stroke-width="0.35" textLength="26.9" lengthAdjust="spacing">11</text>
<text x="2715.7" y="1714.0" font-size="24" fill="#131722" stroke="#131722" stroke-width="0.35" textLength="28.7" lengthAdjust="spacing">20</text>
<text x="2911.0" y="1714.0" font-size="24" fill="#131722" font-weight="700" textLength="48.0" lengthAdjust="spacing">Dec</text>
<g fill="#131722">
<path d="M20 1756.3H35.4V1775.5H27.9V1764H20z"/>
<circle cx="42.05" cy="1760.4" r="4.4"/>
<path d="M50.6 1756.3H59.1L50.8 1775.5H42.2z"/>
</g>
<text x="66.7" y="1777.0" font-size="26" fill="#131722" stroke="#131722" stroke-width="0.35" textLength="148.0" lengthAdjust="spacing">TradingView</text>
</svg>
</body></html>
